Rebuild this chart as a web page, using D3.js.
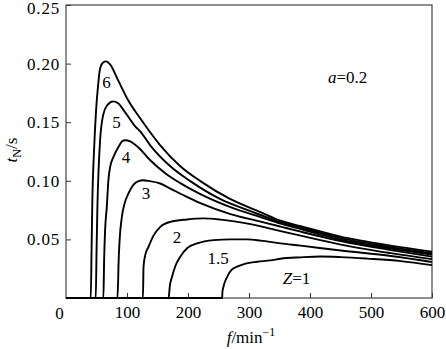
<!DOCTYPE html>
<html>
<head>
<meta charset="utf-8">
<script src="https://cdn.jsdelivr.net/npm/d3@7"></script>
<style>
  body { margin: 0; background: #fff; }
  svg { display: block; font-family: "Liberation Serif", "Times New Roman", serif; font-size: 17px; }
  svg text { fill: #000; }
</style>
</head>
<body>
<svg id="chart" width="446" height="349"></svg>
<script>
// Tick values
const xTicks = [100, 200, 300, 400, 500, 600];
const yTicks = [0.05, 0.10, 0.15, 0.20, 0.25];

// Shearer speed f (min^-1) and time t_N (s) for each value of Z, a = 0.2
const f6 = [0, 40.6, 41.9, 43.2, 46.0, 49.3, 52.6, 55.9, 60.8, 65.8, 72.3, 85.5, 101.9, 121.6, 154.5, 187.4, 220.3, 269.6, 318.9, 351.8, 384.7, 450.4, 532.6, 600];
const t6 = [0, 0, 0.0409, 0.0835, 0.1261, 0.1601, 0.1814, 0.1959, 0.201, 0.2019, 0.1993, 0.1857, 0.1687, 0.1533, 0.1303, 0.1124, 0.0997, 0.0843, 0.0733, 0.066, 0.0613, 0.0524, 0.0447, 0.0396];

const f5 = [0, 48.8, 50.1, 51.5, 53.4, 55.9, 60.8, 67.4, 77.3, 85.5, 97.0, 113.4, 121.6, 138.1, 171.0, 203.8, 253.2, 302.5, 351.8, 384.7, 450.4, 532.6, 600];
const t5 = [0, 0, 0.0409, 0.0784, 0.109, 0.1346, 0.1559, 0.1644, 0.1678, 0.1661, 0.1584, 0.1465, 0.1422, 0.1303, 0.1124, 0.0997, 0.0843, 0.0741, 0.0647, 0.06, 0.0511, 0.0434, 0.0383];

const f4 = [0, 61.3, 62.5, 64.1, 66.9, 69.5, 72.3, 77.8, 86.0, 92.1, 97.0, 105.2, 118.4, 138.1, 162.7, 187.4, 220.3, 269.6, 318.9, 351.8, 384.7, 450.4, 532.6, 600];
const t4 = [0, 0, 0.0324, 0.0579, 0.0778, 0.1005, 0.1116, 0.1204, 0.1289, 0.1337, 0.1346, 0.1337, 0.1286, 0.1175, 0.1065, 0.098, 0.0886, 0.0775, 0.069, 0.0635, 0.0588, 0.0498, 0.0422, 0.0371];

const f3 = [0, 84.3, 85.5, 86.0, 87.9, 91.6, 96.2, 102.4, 110.1, 118.9, 126.6, 135.3, 154.5, 171.0, 195.6, 220.3, 269.6, 318.9, 351.8, 384.7, 450.4, 532.6, 600];
const t3 = [0, 0, 0.0153, 0.0267, 0.0494, 0.0693, 0.0809, 0.0892, 0.0963, 0.0997, 0.1005, 0.0999, 0.0977, 0.0934, 0.0869, 0.0809, 0.0716, 0.0652, 0.0609, 0.0566, 0.0486, 0.0409, 0.0353];

const f2 = [0, 126.1, 127.1, 129.9, 135.3, 143.0, 154.5, 171.0, 198.4, 225.2, 253.2, 302.5, 351.8, 384.7, 450.4, 532.6, 600];
const t2 = [0, 0, 0.0267, 0.0366, 0.0437, 0.0528, 0.0607, 0.065, 0.067, 0.0679, 0.0669, 0.063, 0.0571, 0.0532, 0.0456, 0.0383, 0.0332];

const f15 = [0, 168.2, 170.2, 173.8, 179.3, 187.4, 198.9, 214.9, 242.2, 269.6, 297.1, 318.9, 351.8, 384.7, 450.4, 532.6, 600];
const t15 = [0, 0, 0.0102, 0.0181, 0.0273, 0.0352, 0.0426, 0.0466, 0.0494, 0.05, 0.05, 0.049, 0.0466, 0.0447, 0.0405, 0.0358, 0.0307];

const f1 = [0, 256.0, 256.4, 258.1, 264.2, 271.3, 280.6, 294.3, 313.5, 335.4, 351.8, 384.7, 417.6, 450.4, 494.3, 549.1, 600];
const t1 = [0, 0, 0.0051, 0.0096, 0.0181, 0.0239, 0.0267, 0.0294, 0.0309, 0.0321, 0.0335, 0.0347, 0.0354, 0.0349, 0.0336, 0.0315, 0.0281];

const zNames = ["6", "5", "4", "3", "2", "1.5", "1"];
const fSeries = [f6, f5, f4, f3, f2, f15, f1];
const tSeries = [t6, t5, t4, t3, t2, t15, t1];

// Placement of the Z labels next to their curves (pixels)
const labelPos = {
  "6":   [106.5, 88],
  "5":   [116.5, 128],
  "4":   [126, 163],
  "3":   [146, 199],
  "2":   [177, 243],
  "1.5": [218, 263.5],
  "1":   [296.5, 283.5]
};

const svg = d3.select("#chart");
const x = d3.scaleLinear().domain([0, 600]).range([66, 432]);
const y = d3.scaleLinear().domain([0, 0.25]).range([298, 5]);

// Axes with inward ticks
const gx = svg.append("g").attr("transform", `translate(0,${y(0)})`)
  .call(d3.axisBottom(x).tickValues(xTicks).tickSize(-5).tickPadding(8).tickFormat(d3.format("d")));
const gy = svg.append("g").attr("transform", `translate(${x(0)},0)`)
  .call(d3.axisLeft(y).tickValues(yTicks).tickSize(-5).tickPadding(6).tickFormat(d3.format(".2f")));
[gx, gy].forEach(g => {
  g.attr("font-family", null).attr("font-size", null);
  g.select(".domain").remove();
  g.selectAll(".tick line").attr("stroke", "#333").attr("stroke-width", 1);
  g.selectAll(".tick text").attr("fill", "#000");
});
gy.selectAll(".tick text").style("letter-spacing", "0.8px");
// keep the top label inside the window
gy.selectAll(".tick text").filter(d => d === 0.25).attr("dy", "0.5em");

// Origin label
svg.append("text").attr("x", x(0) - 6.5).attr("y", 318.5)
  .attr("text-anchor", "middle").text("0");

// Plot frame
svg.append("rect")
  .attr("x", x(0)).attr("y", y(0.25))
  .attr("width", x(600) - x(0)).attr("height", y(0) - y(0.25))
  .attr("fill", "none").attr("stroke", "#444").attr("stroke-width", 1.2);

// Curves
const line = d3.line()
  .x(d => x(d[0]))
  .y(d => y(d[1]))
  .curve(d3.curveMonotoneX);

svg.append("g").selectAll("path")
  .data(zNames.map((z, i) => fSeries[i].map((f, j) => [f, tSeries[i][j]])))
  .join("path")
  .attr("d", line)
  .attr("fill", "none")
  .attr("stroke", "#000")
  .attr("stroke-width", 1.9)
  .attr("stroke-linejoin", "round");

// Z labels
const lab = svg.append("g");
zNames.forEach(z => {
  const [lx, ly] = labelPos[z];
  const t = lab.append("text").attr("x", lx).attr("y", ly).attr("text-anchor", "middle");
  if (z === "1") {
    t.append("tspan").style("font-style", "italic").text("Z");
    t.append("tspan").text("=1");
  } else {
    t.text(z);
  }
});

// Parameter note
const note = svg.append("text").attr("x", 328).attr("y", 83);
note.append("tspan").style("font-style", "italic").text("a");
note.append("tspan").text("=0.2");

// X axis title
const xt = svg.append("text").attr("x", 251).attr("y", 343).attr("text-anchor", "middle");
xt.append("tspan").style("font-style", "italic").text("f");
xt.append("tspan").text("/min");
xt.append("tspan").style("font-size", "12px").attr("dy", -7).text("\u22121");

// Y axis title
const yt = svg.append("text")
  .attr("transform", "translate(16.5,150) rotate(-90)")
  .attr("text-anchor", "middle");
yt.append("tspan").style("font-style", "italic").text("t");
yt.append("tspan").style("font-size", "12px").attr("dy", 4).text("N");
yt.append("tspan").attr("dy", -4).text("/s");
</script>
</body>
</html>
